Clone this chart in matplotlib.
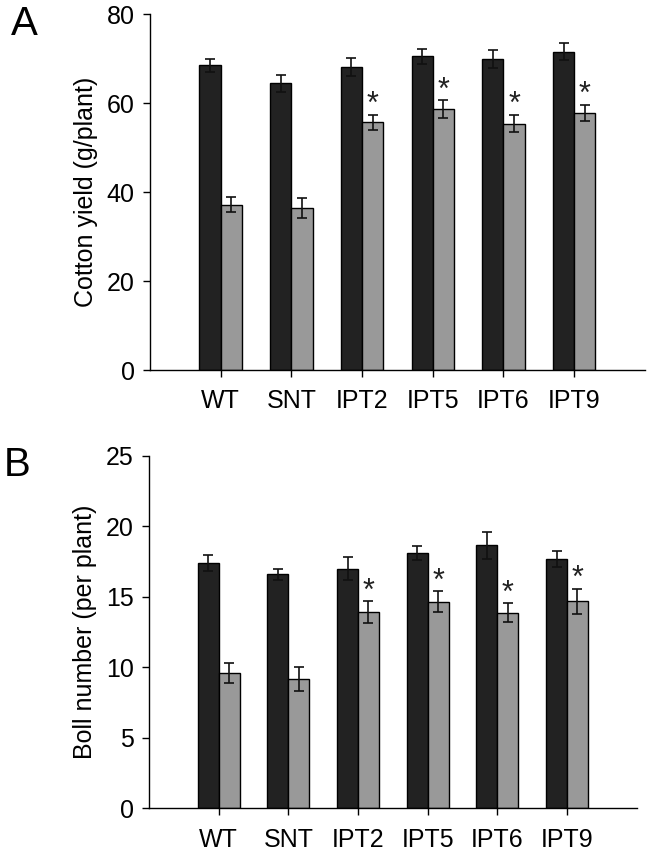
import matplotlib
matplotlib.use('Agg')
import matplotlib.pyplot as plt
import numpy as np

plt.rcParams['font.family'] = ['Liberation Sans', 'DejaVu Sans']

lines = ['WT', 'SNT', 'IPT2', 'IPT5', 'IPT6', 'IPT9']

# panel A: cotton yield (g/plant)
yield_dark = [68.5, 64.4, 68.1, 70.5, 69.9, 71.5]
yield_dark_err = [1.5, 2.0, 2.1, 1.7, 2.0, 1.9]
yield_gray = [37.1, 36.4, 55.7, 58.7, 55.4, 57.8]
yield_gray_err = [1.7, 2.2, 1.7, 2.0, 2.0, 1.8]

# panel B: boll number (per plant)
boll_dark = [17.4, 16.6, 17.0, 18.1, 18.65, 17.7]
boll_dark_err = [0.57, 0.4, 0.8, 0.48, 0.93, 0.57]
boll_gray = [9.58, 9.15, 13.93, 14.66, 13.88, 14.69]
boll_gray_err = [0.7, 0.85, 0.78, 0.76, 0.67, 0.9]

# which gray bars get an asterisk
signif = [False, False, True, True, True, True]


def draw_panel(ax, dark, dark_err, gray, gray_err, ymax, ystep, ylabel):
    x = np.arange(len(lines))
    w = 0.3
    ekw = dict(elinewidth=1.2, capthick=1.2, ecolor='#111111')
    ax.bar(x - w/2, dark, w, color='#222222', edgecolor='black', linewidth=1,
           yerr=dark_err, capsize=3.8, error_kw=ekw, zorder=2)
    ax.bar(x + w/2, gray, w, color='#999999', edgecolor='black', linewidth=1,
           yerr=gray_err, capsize=3.8, error_kw=ekw, zorder=2)
    for i, s in enumerate(signif):
        if s:
            ax.annotate('*', (x[i] + w/2, gray[i] + gray_err[i]), xytext=(0, -4),
                        textcoords='offset points', ha='center', va='bottom',
                        fontsize=22, color='#222222')
    ax.set_xlim(-1, 6)
    ax.set_ylim(0, ymax)
    ax.set_yticks(np.arange(0, ymax + 0.1, ystep))
    ax.set_xticks(x)
    ax.set_xticklabels(lines)
    ax.spines['top'].set_visible(False)
    ax.spines['right'].set_visible(False)
    ax.spines['left'].set_linewidth(1)
    ax.spines['bottom'].set_linewidth(1)
    ax.tick_params(axis='both', labelsize=18, direction='out', length=5, width=1)
    ax.tick_params(axis='x', pad=9)
    ax.tick_params(axis='y', pad=6)
    ax.set_ylabel(ylabel, fontsize=18, labelpad=6)


fig = plt.figure(figsize=(6.52, 8.51), dpi=100)
axA = fig.add_axes([0.230, 0.5652, 0.759, 0.4183])
axB = fig.add_axes([0.2285, 0.0502, 0.748, 0.414])

draw_panel(axA, yield_dark, yield_dark_err, yield_gray, yield_gray_err, 80, 20,
           'Cotton yield (g/plant)')
draw_panel(axB, boll_dark, boll_dark_err, boll_gray, boll_gray_err, 25, 5,
           'Boll number (per plant)')

fig.text(0.016, 0.9589, 'A', fontsize=29, va='baseline', ha='left')
fig.text(0.005, 0.4407, 'B', fontsize=29, va='baseline', ha='left')

fig.savefig('out.png', dpi=100)
